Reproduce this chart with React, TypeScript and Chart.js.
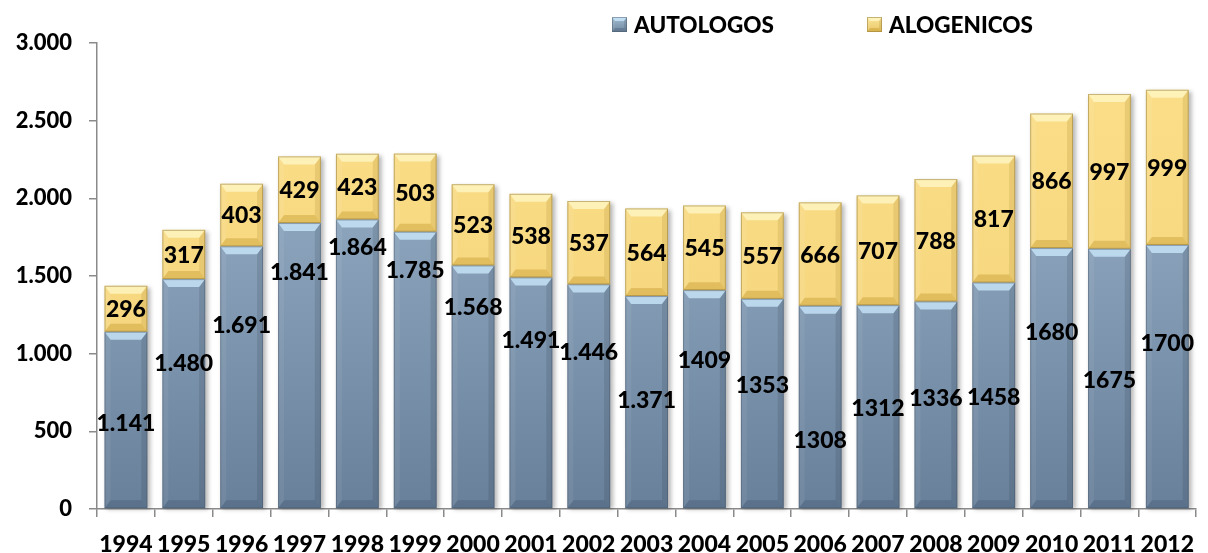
import React, { useEffect, useRef } from 'react';
import { Chart, registerables } from 'chart.js';

Chart.register(...registerables);

const years = ['1994', '1995', '1996', '1997', '1998', '1999', '2000', '2001', '2002', '2003', '2004', '2005', '2006', '2007', '2008', '2009', '2010', '2011', '2012'];
const seriesNames = ['AUTOLOGOS', 'ALOGENICOS'];
const autologos = [1141, 1480, 1691, 1841, 1864, 1785, 1568, 1491, 1446, 1371, 1409, 1353, 1308, 1312, 1336, 1458, 1680, 1675, 1700];
const alogenicos = [296, 317, 403, 429, 423, 503, 523, 538, 537, 564, 545, 557, 666, 707, 788, 817, 866, 997, 999];
const autologosLabels = ['1.141', '1.480', '1.691', '1.841', '1.864', '1.785', '1.568', '1.491', '1.446', '1.371', '1409', '1353', '1308', '1312', '1336', '1458', '1680', '1675', '1700'];
const alogenicosLabels = ['296', '317', '403', '429', '423', '503', '523', '538', '537', '564', '545', '557', '666', '707', '788', '817', '866', '997', '999'];
// value-axis anchors of the hand-placed AUTOLOGOS labels in the source chart
const autologosLabelAt = [554, 940, 1185, 1526, 1687, 1539, 1300, 1088, 1011, 702, 959, 798, 444, 650, 715, 721, 1140, 830, 1069];
const yTickValues = [0, 500, 1000, 1500, 2000, 2500, 3000];
const yTickLabels = ['0', '500', '1.000', '1.500', '2.000', '2.500', '3.000'];

const FONT = 'Lato, "Open Sans", sans-serif';
const WEIGHT = '900';

const bevelStyles = [
  { top: 'rgba(205,235,255,0.75)', bottom: 'rgba(40,60,85,0.22)', left: 'rgba(255,255,255,0.06)', right: 'rgba(30,45,60,0.14)', edge: 'rgba(70,85,100,0.45)' },
  { top: 'rgba(255,248,200,0.75)', bottom: 'rgba(185,140,30,0.35)', left: 'rgba(255,255,255,0.08)', right: 'rgba(150,115,20,0.16)', edge: 'rgba(150,125,60,0.55)' },
];

function drawBevel(ctx: CanvasRenderingContext2D, l: number, t: number, r: number, b: number, st: any, bx: number, by: number) {
  const h = b - t;
  const byy = Math.min(by, h / 2);
  const poly = (pts: number[][], fill: string) => {
    ctx.beginPath();
    ctx.moveTo(pts[0][0], pts[0][1]);
    for (let i = 1; i < pts.length; i++) ctx.lineTo(pts[i][0], pts[i][1]);
    ctx.closePath();
    ctx.fillStyle = fill;
    ctx.fill();
  };
  poly([[l, t], [r, t], [r - bx, t + byy], [l + bx, t + byy]], st.top);
  poly([[l, b], [r, b], [r - bx, b - byy], [l + bx, b - byy]], st.bottom);
  poly([[l, t], [l + bx, t + byy], [l + bx, b - byy], [l, b]], st.left);
  poly([[r, t], [r - bx, t + byy], [r - bx, b - byy], [r, b]], st.right);
  ctx.strokeStyle = st.edge;
  ctx.lineWidth = 1;
  ctx.strokeRect(l + 0.5, t + 0.5, r - l - 1, b - t - 1);
}

const shadowPlugin = {
  id: 'barShadow',
  beforeDatasetsDraw(chart: any) {
    const ctx = chart.ctx;
    const m0 = chart.getDatasetMeta(0);
    const m1 = chart.getDatasetMeta(1);
    ctx.save();
    ctx.filter = 'blur(2px)';
    ctx.fillStyle = 'rgba(0,0,0,0.28)';
    m0.data.forEach((bar: any, i: number) => {
      const top = m1.data[i].y;
      const l = bar.x - bar.width / 2;
      ctx.fillRect(l + 2, top + 2, bar.width + 1, bar.base - top - 1);
    });
    ctx.restore();
  },
};

const bevelPlugin = {
  id: 'barBevel',
  afterDatasetsDraw(chart: any) {
    const ctx = chart.ctx;
    ctx.save();
    [0, 1].forEach((d) => {
      const meta = chart.getDatasetMeta(d);
      meta.data.forEach((bar: any) => {
        const l = bar.x - bar.width / 2;
        const r = bar.x + bar.width / 2;
        drawBevel(ctx, l, bar.y, r, bar.base, bevelStyles[d], 6, 8);
      });
    });
    ctx.restore();
  },
};

const labelPlugin = {
  id: 'valueLabels',
  afterDatasetsDraw(chart: any) {
    const ctx = chart.ctx;
    const yScale = chart.scales.y;
    ctx.save();
    ctx.font = `${WEIGHT} 23px ${FONT}`;
    ctx.fillStyle = '#000';
    ctx.textAlign = 'center';
    ctx.textBaseline = 'middle';
    const m0 = chart.getDatasetMeta(0);
    const m1 = chart.getDatasetMeta(1);
    m0.data.forEach((bar: any, i: number) => {
      ctx.fillText(autologosLabels[i], bar.x, yScale.getPixelForValue(autologosLabelAt[i]) + 1);
    });
    m1.data.forEach((bar: any, i: number) => {
      ctx.fillText(alogenicosLabels[i], bar.x, (bar.y + bar.base) / 2 + 1);
    });
    ctx.restore();
  },
};

const legendPlugin = {
  id: 'customLegend',
  afterDraw(chart: any) {
    const ctx = chart.ctx;
    const items = [
      { x: 612, fill: ['#a3bcd2', '#6f889f'], st: bevelStyles[0] },
      { x: 867, fill: ['#fbe69a', '#e9c766'], st: bevelStyles[1] },
    ];
    ctx.save();
    items.forEach((it, i) => {
      const y = 17;
      const s = 15;
      const g = ctx.createLinearGradient(0, y, 0, y + s);
      g.addColorStop(0, it.fill[0]);
      g.addColorStop(1, it.fill[1]);
      ctx.fillStyle = g;
      ctx.fillRect(it.x, y, s, s);
      drawBevel(ctx, it.x, y, it.x + s, y + s, it.st, 3, 4);
      ctx.font = `${WEIGHT} 22.5px ${FONT}`;
      ctx.fillStyle = '#000';
      ctx.textAlign = 'left';
      ctx.textBaseline = 'middle';
      ctx.fillText(seriesNames[i], it.x + 22, y + s / 2 + 1);
    });
    ctx.restore();
  },
};

function verticalGradient(ctx: any, top: string, bottom: string, fallback: string) {
  const chart = ctx.chart;
  const area = chart.chartArea;
  if (!area) return fallback;
  const g = chart.ctx.createLinearGradient(0, area.top, 0, area.bottom);
  g.addColorStop(0, top);
  g.addColorStop(1, bottom);
  return g;
}

export default function App() {
  const ref = useRef<HTMLCanvasElement | null>(null);

  useEffect(() => {
    document.body.style.margin = '0';
    const canvas = ref.current;
    if (!canvas) return;
    const chart = new Chart(canvas, {
      type: 'bar',
      data: {
        labels: years,
        datasets: [
          {
            label: seriesNames[0],
            data: autologos,
            backgroundColor: (c: any) => verticalGradient(c, '#a2bbd2', '#68809a', '#839db5'),
            borderWidth: 0,
            barPercentage: 0.74,
            categoryPercentage: 1,
          },
          {
            label: seriesNames[1],
            data: alogenicos,
            backgroundColor: (c: any) => verticalGradient(c, '#fbdf88', '#f3d27a', '#f8da84'),
            borderWidth: 0,
            barPercentage: 0.74,
            categoryPercentage: 1,
          },
        ],
      },
      options: {
        animation: false,
        responsive: false,
        devicePixelRatio: 1,
        layout: { padding: { top: 43, right: 1, left: 0, bottom: 0 } },
        plugins: {
          legend: { display: false },
          tooltip: { enabled: false },
          title: { display: false },
        },
        scales: {
          x: {
            stacked: true,
            offset: true,
            afterFit: (s: any) => { s.height = 44; },
            grid: {
              display: true,
              offset: true,
              drawOnChartArea: false,
              drawTicks: true,
              tickLength: 8,
              color: '#8a8a8a',
              lineWidth: 1.5,
            },
            border: { display: true, color: '#8a8a8a', width: 1.5 },
            ticks: {
              color: '#000',
              font: { family: FONT, size: 23, weight: WEIGHT },
              padding: 14,
              maxRotation: 0,
              autoSkip: false,
            },
          },
          y: {
            stacked: true,
            min: 0,
            max: 3000,
            afterFit: (s: any) => { s.width = 97; },
            grid: {
              display: true,
              drawOnChartArea: false,
              drawTicks: true,
              tickLength: 8,
              color: '#8a8a8a',
              lineWidth: 1.5,
            },
            border: { display: true, color: '#8a8a8a', width: 1.5 },
            ticks: {
              stepSize: 500,
              color: '#000',
              font: { family: FONT, size: 22, weight: WEIGHT },
              padding: 17,
              callback: (v: any) => {
                const idx = yTickValues.indexOf(Number(v));
                return idx >= 0 ? yTickLabels[idx] : String(v);
              },
            },
          },
        },
      },
      plugins: [shadowPlugin, bevelPlugin, labelPlugin, legendPlugin],
    } as any);
    return () => chart.destroy();
  }, []);

  return (
    <div style={{ width: 1208, height: 553, background: '#fff' }}>
      <canvas ref={ref} width={1208} height={553} style={{ display: 'block' }} />
    </div>
  );
}
